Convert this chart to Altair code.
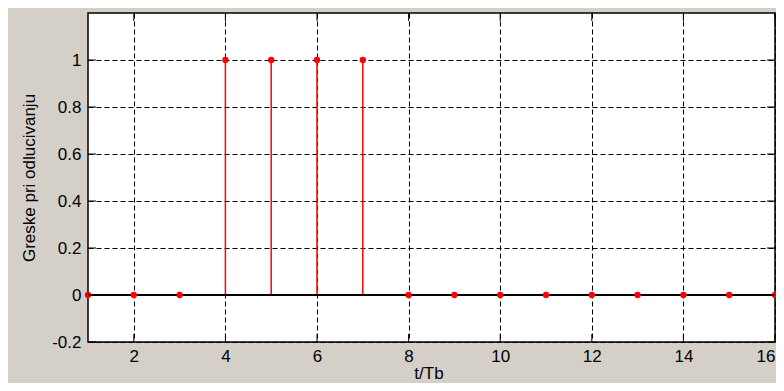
import altair as alt
import pandas as pd

t_values = list(range(1, 17))
errors = [0, 0, 0, 1, 1, 1, 1, 0, 0, 0, 0, 0, 0, 0, 0, 0]
x_ticks = [2, 4, 6, 8, 10, 12, 14, 16]
y_ticks = [-0.2, 0, 0.2, 0.4, 0.6, 0.8, 1.0]
x_title = "t/Tb"
y_title = "Greske pri odlucivanju"

df = pd.DataFrame({"t": t_values, "err": errors})
xt = pd.DataFrame({"v": x_ticks})
yt = pd.DataFrame({"v": y_ticks})

W, H = 687, 329
TICK = 8
FONT = "Liberation Sans"

xscale = alt.Scale(domain=[1, 16], nice=False, zero=False)
yscale = alt.Scale(domain=[-0.2, 1.2], nice=False, zero=False)

xaxis = alt.Axis(values=x_ticks, title=x_title, grid=True, format="d",
                 titleX=W / 2 - 3, titleY=36, titleAlign="center",
                 titleBaseline="alphabetic", labelPadding=6)
yaxis = alt.Axis(values=y_ticks, title=y_title, grid=True,
                 labelExpr="'' + (round(datum.value*10)/10)",
                 titleX=-59, titleY=H / 2, titleAngle=-90,
                 titleAlign="center", titleBaseline="middle", labelPadding=7)

base = alt.Chart(df)

stems = base.mark_rule(color="#ff0000", strokeWidth=1.5).encode(
    x=alt.X("t:Q", scale=xscale, axis=xaxis),
    y=alt.Y("err:Q", scale=yscale, axis=yaxis),
    y2=alt.datum(0),
)

baseline = base.mark_rule(color="black", strokeWidth=1.2).encode(
    x=alt.datum(1, scale=xscale),
    x2=alt.datum(16),
    y=alt.datum(0),
)

points = base.mark_circle(color="#ff0000", opacity=1, size=40).encode(
    x=alt.X("t:Q", scale=xscale),
    y=alt.Y("err:Q", scale=yscale),
)

tick_style = dict(color="black", strokeWidth=1)
xticks_bottom = alt.Chart(xt).mark_rule(**tick_style).encode(
    x=alt.X("v:Q", scale=xscale), y=alt.value(H), y2=alt.value(H - TICK))
xticks_top = alt.Chart(xt).mark_rule(**tick_style).encode(
    x=alt.X("v:Q", scale=xscale), y=alt.value(0), y2=alt.value(TICK))
yticks_left = alt.Chart(yt).mark_rule(**tick_style).encode(
    y=alt.Y("v:Q", scale=yscale), x=alt.value(0), x2=alt.value(TICK))
yticks_right = alt.Chart(yt).mark_rule(**tick_style).encode(
    y=alt.Y("v:Q", scale=yscale), x=alt.value(W), x2=alt.value(W - TICK))

chart = alt.layer(
    stems, baseline, points, xticks_bottom, xticks_top, yticks_left, yticks_right
).properties(
    width=W, height=H,
    autosize=alt.AutoSizeParams(type="none"),
    padding={"left": 80, "top": 5, "right": 1, "bottom": 41},
    background="#d4d0c8",
).configure_view(
    fill="white", stroke="black", strokeWidth=1.5,
).configure_axis(
    labelFont=FONT, titleFont=FONT, labelFontSize=17, titleFontSize=17,
    titleFontWeight="normal", labelColor="black", titleColor="black",
    domain=False, ticks=False, gridColor="black", gridDash=[5, 3],
    gridWidth=1, gridOpacity=1,
)

chart.save("out.html", embed_options={"renderer": "svg", "actions": False})
